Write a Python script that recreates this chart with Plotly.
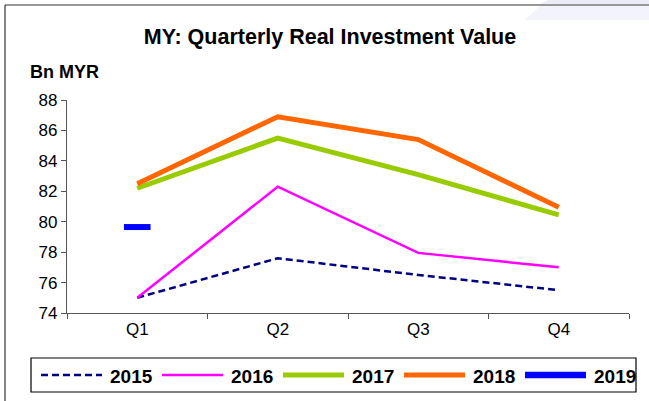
import plotly.graph_objects as go

# Quarterly real investment, Malaysia (Bn MYR)
quarters = ["Q1", "Q2", "Q3", "Q4"]
y2015 = [75.0, 77.6, 76.5, 75.5]
y2016 = [75.0, 82.3, 77.95, 77.0]
y2017 = [82.2, 85.5, 83.1, 80.45]
y2018 = [82.5, 86.9, 85.4, 80.95]
y2019 = [79.65]
y_ticks = [74, 76, 78, 80, 82, 84, 86, 88]

W, H = 649, 401
ML, MR, MT, MB = 67, 20, 100, 88
PW, PH = W - ML - MR, H - MT - MB


def px_x(px):
    """Pixel column -> paper x."""
    return (px - ML) / PW


def px_y(py):
    """Pixel row -> paper y."""
    return (H - MB - py) / PH


styles = {
    "2015": dict(color="#000080", width=2.5, dash="7px,4px"),
    "2016": dict(color="#ff00ff", width=2.5),
    "2017": dict(color="#99cc00", width=5),
    "2018": dict(color="#ff6600", width=5),
    "2019": dict(color="#0000ff", width=6.5),
}

fig = go.Figure()
for name, vals in [("2015", y2015), ("2016", y2016), ("2017", y2017), ("2018", y2018)]:
    fig.add_trace(go.Scatter(x=quarters[:len(vals)], y=vals, name=name,
                             mode="lines", line=styles[name]))
fig.add_trace(go.Scatter(x=quarters[:len(y2019)], y=y2019, name="2019",
                         mode="markers",
                         marker=dict(symbol="line-ew", size=19,
                                     line=dict(color=styles["2019"]["color"],
                                               width=6))))

# outer chart frame (top and left edges) and the light corner wash
frame = dict(color="#333333", width=1.2)
fig.add_shape(type="line", xref="paper", yref="paper",
              x0=px_x(5), x1=px_x(W + 5), y0=px_y(5), y1=px_y(5), line=frame)
fig.add_shape(type="line", xref="paper", yref="paper",
              x0=px_x(5), x1=px_x(5), y0=px_y(5), y1=px_y(H + 5), line=frame)
fig.add_shape(type="path", xref="paper", yref="paper",
              path=(f"M {px_x(548)} {px_y(0)} L {px_x(W)} {px_y(0)} "
                    f"L {px_x(W)} {px_y(4)} L {px_x(540)} {px_y(4)} Z"),
              fillcolor="#ececf8", line=dict(width=0), layer="below")
fig.add_shape(type="path", xref="paper", yref="paper",
              path=(f"M {px_x(540)} {px_y(6)} L {px_x(W)} {px_y(6)} "
                    f"L {px_x(W)} {px_y(20)} L {px_x(525)} {px_y(20)} Z"),
              fillcolor="#f3f3fb", line=dict(width=0), layer="below")

# y-axis unit label
fig.add_annotation(text="<b>Bn MYR</b>", xref="paper", yref="paper",
                   x=px_x(28), y=px_y(72), xanchor="left", yanchor="middle",
                   showarrow=False, font=dict(size=18, color="#000000"))

# boxed legend along the bottom
LEG_L, LEG_R, LEG_T, LEG_B = 31, 636, 358, 392
leg_mid = (LEG_T + LEG_B) / 2
fig.add_shape(type="rect", xref="paper", yref="paper",
              x0=px_x(LEG_L), x1=px_x(LEG_R), y0=px_y(LEG_T), y1=px_y(LEG_B),
              line=dict(color="#000000", width=1.2), fillcolor="#ffffff",
              layer="below")
step, sym_len, text_gap = 121, 61, 6
for i, name in enumerate(["2015", "2016", "2017", "2018", "2019"]):
    x0 = 41 + i * step
    st = styles[name]
    fig.add_shape(type="line", xref="paper", yref="paper",
                  x0=px_x(x0), x1=px_x(x0 + sym_len),
                  y0=px_y(leg_mid), y1=px_y(leg_mid),
                  line=dict(color=st["color"], width=st["width"],
                            dash=st.get("dash", "solid")))
    fig.add_annotation(text=f"<b>{name}</b>", xref="paper", yref="paper",
                       x=px_x(x0 + sym_len + text_gap), y=px_y(leg_mid + 1),
                       xanchor="left", yanchor="middle", showarrow=False,
                       font=dict(size=19, color="#000000"))

axis_col = "#555555"
fig.update_layout(
    width=W, height=H,
    margin=dict(l=ML, r=MR, t=MT, b=MB, autoexpand=False),
    paper_bgcolor="#ffffff", plot_bgcolor="#ffffff",
    font=dict(family="Liberation Sans, Arial, sans-serif", color="#000000", size=17),
    title=dict(text="<b>MY: Quarterly Real Investment Value</b>",
               x=330 / W, xanchor="center", y=1 - 36 / H, yanchor="middle",
               font=dict(size=21.5, color="#000000")),
    showlegend=False,
    xaxis=dict(type="category", range=[-0.5, 3.5], showgrid=False,
               zeroline=False, showline=True, linecolor=axis_col, linewidth=1.2,
               ticks="outside", ticklen=5, tickcolor=axis_col,
               tickson="boundaries", tickfont=dict(size=17)),
    yaxis=dict(range=[74, 88], tickvals=y_ticks, showgrid=False,
               zeroline=False, showline=True, linecolor=axis_col,
               linewidth=1.2, ticks="outside", ticklen=5,
               tickcolor=axis_col, tickfont=dict(size=17)),
)

fig.write_html("out.html")
